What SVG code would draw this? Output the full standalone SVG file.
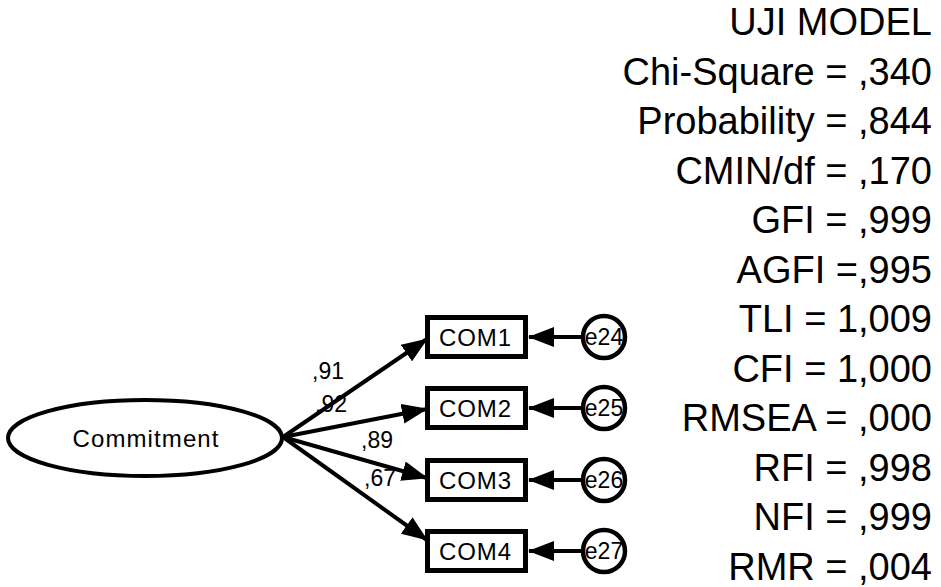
<svg xmlns="http://www.w3.org/2000/svg" width="941" height="587" viewBox="0 0 941 587">
  <style>
    .shape { fill: #ffffff; stroke: #000000; }
    .latent { stroke-width: 4; }
    .observed { stroke-width: 5; }
    .error { stroke-width: 4.5; }
    .lbl { font-family: "Liberation Sans", Arial, sans-serif; fill: #000000; }
    .node-text { font-size: 24px; text-anchor: middle; }
    .err-text { font-size: 23px; text-anchor: middle; }
    .coef { font-size: 23px; }
    .fit { font-size: 38px; text-anchor: end; }
    .path { stroke: #000000; stroke-width: 4; fill: none; marker-end: url(#arrow); }
  </style>
  <defs>
    <marker id="arrow" markerUnits="userSpaceOnUse" markerWidth="26" markerHeight="20" viewBox="0 0 26 20" refX="25" refY="10" orient="auto">
      <path d="M0,0 L26,10 L0,20 Z" fill="#000000"/>
    </marker>
  </defs>

  <!-- connectors: factor loadings and error terms -->
  <g id="connectors">
    <line class="path" x1="283" y1="437" x2="427" y2="339"/>
    <line class="path" x1="283" y1="437" x2="427" y2="409"/>
    <line class="path" x1="283" y1="437" x2="427" y2="478"/>
    <line class="path" x1="283" y1="437" x2="427" y2="540"/>
    <line class="path" x1="584" y1="337" x2="529" y2="337"/>
    <line class="path" x1="584" y1="408" x2="529" y2="408"/>
    <line class="path" x1="584" y1="480" x2="529" y2="480"/>
    <line class="path" x1="584" y1="551" x2="529" y2="551"/>
  </g>

  <!-- loading estimates -->
  <g id="loadings" class="lbl coef">
    <text x="312" y="379">,91</text>
    <text x="315" y="412">,92</text>
    <text x="361" y="448">,89</text>
    <text x="364" y="486">,67</text>
  </g>

  <!-- latent factor -->
  <g id="commitment">
    <ellipse class="shape latent" cx="145" cy="438" rx="137" ry="38"/>
    <text class="lbl node-text" x="145.5" y="447" textLength="146" lengthAdjust="spacing">Commitment</text>
  </g>

  <!-- indicators -->
  <g id="com1">
    <rect class="shape observed" x="427.5" y="317.5" width="98" height="39"/>
    <text class="lbl node-text" x="475" y="346" textLength="72" lengthAdjust="spacing">COM1</text>
  </g>
  <g id="com2">
    <rect class="shape observed" x="427.5" y="388.5" width="98" height="39"/>
    <text class="lbl node-text" x="475" y="417" textLength="72" lengthAdjust="spacing">COM2</text>
  </g>
  <g id="com3">
    <rect class="shape observed" x="427.5" y="460.5" width="98" height="39"/>
    <text class="lbl node-text" x="475" y="489" textLength="72" lengthAdjust="spacing">COM3</text>
  </g>
  <g id="com4">
    <rect class="shape observed" x="427.5" y="531.5" width="98" height="39"/>
    <text class="lbl node-text" x="475" y="560" textLength="72" lengthAdjust="spacing">COM4</text>
  </g>

  <!-- error terms -->
  <g id="e24">
    <circle class="shape error" cx="604" cy="337" r="21"/>
    <text class="lbl err-text" x="604" y="345">e24</text>
  </g>
  <g id="e25">
    <circle class="shape error" cx="604" cy="408" r="21"/>
    <text class="lbl err-text" x="604" y="416">e25</text>
  </g>
  <g id="e26">
    <circle class="shape error" cx="604" cy="480" r="21"/>
    <text class="lbl err-text" x="604" y="488">e26</text>
  </g>
  <g id="e27">
    <circle class="shape error" cx="604" cy="551" r="21"/>
    <text class="lbl err-text" x="604" y="559">e27</text>
  </g>

  <!-- model fit summary -->
  <g id="fit-summary" class="lbl fit">
    <text x="932" y="35">UJI MODEL</text>
    <text x="932" y="84.5">Chi-Square = ,340</text>
    <text x="932" y="134">Probability = ,844</text>
    <text x="932" y="183.5">CMIN/df = ,170</text>
    <text x="932" y="233">GFI = ,999</text>
    <text x="932" y="282.5">AGFI =,995</text>
    <text x="932" y="332">TLI = 1,009</text>
    <text x="932" y="381.5">CFI = 1,000</text>
    <text x="932" y="431">RMSEA = ,000</text>
    <text x="932" y="480.5">RFI = ,998</text>
    <text x="932" y="530">NFI = ,999</text>
    <text x="932" y="579.5">RMR = ,004</text>
  </g>
</svg>
